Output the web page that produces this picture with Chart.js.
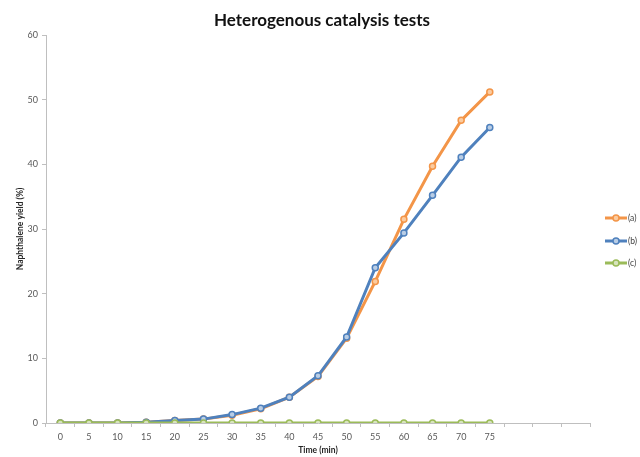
<!DOCTYPE html>
<html>
<head>
<meta charset="utf-8">
<script src="https://cdn.jsdelivr.net/npm/chart.js@4"></script>
<style>
html,body{margin:0;padding:0;background:#fff;}
#wrap{width:640px;height:457px;position:relative;}
</style>
</head>
<body>
<div id="wrap"><canvas id="c" width="640" height="457"></canvas></div>
<script>
const times = ['0','5','10','15','20','25','30','35','40','45','50','55','60','65','70','75'];
const emptySlots = ['', '', ''];
const seriesA = [0, 0, 0, 0.1, 0.4, 0.6, 1.2, 2.2, 4.0, 7.2, 13.1, 21.9, 31.5, 39.7, 46.8, 51.2];
const seriesB = [0, 0, 0, 0.1, 0.4, 0.6, 1.3, 2.3, 4.0, 7.3, 13.3, 24.0, 29.4, 35.2, 41.1, 45.7];
const seriesC = [0, 0, 0, 0, 0, 0, 0, 0, 0, 0, 0, 0, 0, 0, 0, 0];
const seriesNames = ['(a)', '(b)', '(c)'];
const yTicks = [0, 10, 20, 30, 40, 50, 60];

const colors = ['#F39548', '#4F81BD', '#9BBB59'];
const fills = ['#FBCB9F', '#B9CDE5', '#D7E4BD'];

function ds(i, data, order) {
  return {
    label: seriesNames[i], data: data, order: order,
    borderColor: colors[i], backgroundColor: fills[i],
    pointBackgroundColor: fills[i], pointBorderColor: colors[i],
    borderWidth: 3, pointRadius: 3, pointBorderWidth: 1.5, tension: 0
  };
}

const legendPlugin = {
  id: 'sideLegend',
  afterDraw(chart) {
    const ctx = chart.ctx;
    const ys = [218, 241, 263];
    chart.data.datasets.forEach((d, i) => {
      const y = ys[i];
      ctx.save();
      ctx.strokeStyle = d.borderColor; ctx.lineWidth = 3;
      ctx.beginPath(); ctx.moveTo(605, y); ctx.lineTo(627, y); ctx.stroke();
      ctx.fillStyle = d.pointBackgroundColor; ctx.strokeStyle = d.borderColor; ctx.lineWidth = 1.5;
      ctx.beginPath(); ctx.arc(616, y, 3, 0, Math.PI * 2); ctx.fill(); ctx.stroke();
      ctx.fillStyle = '#404040'; ctx.font = '8.5px Lato'; ctx.textBaseline = 'middle'; ctx.textAlign = 'left';
      ctx.fillText(d.label, 628, y + 0.5);
      ctx.restore();
    });
  }
};

new Chart(document.getElementById('c'), {
  type: 'line',
  data: {
    labels: times.concat(emptySlots),
    datasets: [ds(0, seriesA, 3), ds(1, seriesB, 2), ds(2, seriesC, 1)]
  },
  options: {
    responsive: false, animation: false,
    layout: { padding: { left: 4, right: 0, top: 0, bottom: 0 } },
    plugins: {
      legend: { display: false },
      tooltip: { enabled: false },
      title: {
        display: true, text: 'Heterogenous catalysis tests',
        font: { family: 'Lato', size: 17, weight: 'bold' }, color: '#111111',
        padding: { top: 10, bottom: 4.6 }
      }
    },
    scales: {
      x: {
        offset: true,
        grid: { offset: true, drawOnChartArea: false, drawTicks: true, tickLength: 4, color: '#BFBFBF' },
        border: { display: true, color: '#BFBFBF', width: 1 },
        ticks: { autoSkip: false, maxRotation: 0, color: '#595959', font: { family: 'Lato', size: 9 }, padding: 5 },
        title: { display: true, text: 'Time (min)', color: '#262626', font: { family: 'Lato', size: 8.5, weight: 'bold' }, padding: { top: 2, bottom: 2 } },
        afterFit(s) { s.height = 34; }
      },
      y: {
        min: 0, max: 60,
        afterBuildTicks(s) { s.ticks = yTicks.map(v => ({ value: v })); },
        grid: { drawOnChartArea: false, drawTicks: true, tickLength: 4, color: '#BFBFBF' },
        border: { display: true, color: '#BFBFBF', width: 1 },
        ticks: { color: '#595959', font: { family: 'Lato', size: 9 }, padding: 4 },
        title: { display: true, text: 'Naphthalene yield (%)', color: '#262626', font: { family: 'Lato', size: 8.5, weight: 'bold' }, padding: { top: 11, bottom: 0 } },
        afterFit(s) { s.width = 42; }
      },
      legendSpace: {
        type: 'linear', position: 'right', display: true,
        grid: { display: false }, border: { display: false },
        ticks: { display: false },
        afterFit(s) { s.width = 50; }
      }
    }
  },
  plugins: [legendPlugin]
});
</script>
</body>
</html>
